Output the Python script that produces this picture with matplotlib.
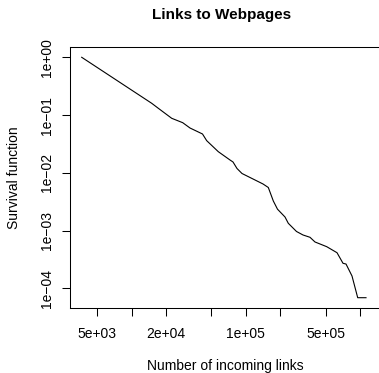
import matplotlib
matplotlib.use("Agg")
import matplotlib.pyplot as plt
import numpy as np

plt.rcParams['font.family'] = ['Liberation Sans', 'DejaVu Sans']

# Empirical survival function of incoming-link counts
links = [3651, 14975, 17110, 22420, 27980, 32410, 41710, 45390, 57360, 72610,
         77150, 83600, 92500, 120200, 141250, 157200, 173900, 189200, 220100,
         235200, 277500, 316400, 364300, 402900, 445700, 510300, 628100,
         708800, 753200, 849800, 953300, 1127000]
survival = [1.0, 0.160, 0.1311, 0.0880, 0.0739, 0.0598, 0.0471, 0.0361,
            0.02327, 0.01672, 0.01544, 0.01192, 0.00976, 0.00754, 0.00643,
            0.00559, 0.003265, 0.002355, 0.001726, 0.001343, 0.000969,
            0.000843, 0.000769, 0.000638, 0.000589, 0.000529, 0.000416,
            0.000273, 0.000265, 0.0001646, 0.0000693, 0.0000693]

x_ticks = [5e3, 1e4, 2e4, 5e4, 1e5, 2e5, 5e5, 1e6]
x_ticklabels = ["5e+03", "", "2e+04", "", "1e+05", "", "5e+05", ""]
y_ticks = [1e0, 1e-1, 1e-2, 1e-3, 1e-4]
y_ticklabels = ["1e+00", "1e\u221201", "1e\u221202", "1e\u221203", "1e\u221204"]

W, H = 379, 373
fig = plt.figure(figsize=(W / 100, H / 100), dpi=100)
left, right, top, bottom = 70, 381, 47, 308.3
ax = fig.add_axes([left / W, (H - bottom) / H, (right - left) / W, (bottom - top) / H])

ax.plot(links, survival, color='black', linewidth=0.8)
ax.set_xscale('log')
ax.set_yscale('log')
ax.set_xlim(10 ** 3.460, 10 ** 6.1832)
ax.set_ylim(10 ** -4.3426, 10 ** 0.178)

ax.minorticks_off()
ax.set_xticks(x_ticks)
ax.set_xticklabels(x_ticklabels)
ax.set_yticks(y_ticks)
ax.set_yticklabels(y_ticklabels, rotation=90, va='center')
ax.tick_params(axis='both', direction='out', length=6, width=0.75,
               labelsize=10, color='black')
ax.tick_params(axis='x', pad=7.5)
ax.tick_params(axis='y', pad=5.5)

for side in ['left', 'top', 'bottom']:
    ax.spines[side].set_linewidth(0.75)
    ax.spines[side].set_color('black')
ax.spines['right'].set_visible(False)

fig.text(222 / W, 1 - 18.5 / H, "Links to Webpages", ha='center', va='baseline',
         fontsize=11, fontweight='bold')
fig.text(225 / W, 1 - 370 / H, "Number of incoming links", ha='center',
         va='baseline', fontsize=10)
fig.text(13.5 / W, 1 - 177.7 / H, "Survival function", ha='center', va='center',
         rotation=90, fontsize=10)

fig.savefig("out.png", dpi=100)
